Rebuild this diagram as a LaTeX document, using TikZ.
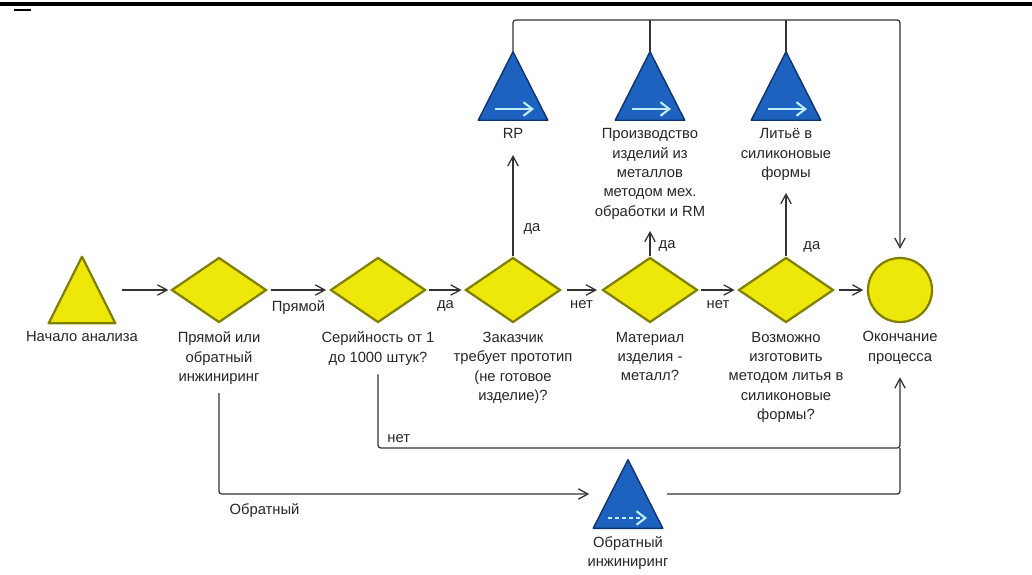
\documentclass[tikz,border=0pt]{standalone}
\usepackage{fontspec}
\setmainfont{Liberation Sans}
\usetikzlibrary{shapes.geometric}
\usetikzlibrary{positioning}
\usetikzlibrary{arrows.meta}
\definecolor{shapeyellow}{RGB}{238,232,10}
\definecolor{shapeolive}{RGB}{128,128,0}
\definecolor{shapeblue}{RGB}{28,98,190}
\definecolor{shapenavy}{RGB}{16,50,110}
\definecolor{arrowcyan}{RGB}{190,236,255}
\definecolor{lineg}{RGB}{50,50,50}
\tikzstyle{decision}=[diamond, draw=shapeolive, fill=shapeyellow, line width=1.6pt, minimum width=2.375cm, minimum height=1.625cm, inner sep=0pt]
\tikzstyle{finish}=[circle, draw=shapeolive, fill=shapeyellow, line width=1.6pt, minimum size=1.6cm, inner sep=0pt]
\tikzstyle{tribox}=[minimum width=1.725cm, minimum height=1.7cm, inner sep=0pt]
\tikzstyle{yellowtri}=[draw=shapeolive, fill=shapeyellow, line width=1.6pt, line join=round]
\tikzstyle{bluetri}=[draw=shapenavy, fill=shapeblue, line width=1pt, line join=round]
\tikzstyle{inarrow}=[arrowcyan, line width=1.5pt, -{Straight Barb[length=2.2mm,width=3.4mm]}]
\tikzstyle{txt}=[align=center, inner sep=0pt, text=black!85, font=\fontsize{10.5}{13.8}\selectfont]
\tikzstyle{lbl}=[txt]
\tikzstyle{link}=[lineg, line width=0.9pt]
\tikzstyle{flow}=[link, -{Straight Barb[length=2.4mm,width=2.6mm]}]

\begin{document}
\begin{tikzpicture}[x=0.025cm, y=-0.025cm]
		\useasboundingbox (0,0) rectangle (1032,574);
		\draw[line width=2.2pt] (0,4) -- (1032,4);
		\draw[line width=1.4pt] (14,10) -- (31,10);

		\node(start)[tribox, minimum width=1.65cm, minimum height=1.65cm] at (82, 290) {};
		\filldraw[yellowtri] (start.south west) -- (start.north) -- (start.south east) -- cycle;
		\node(d1)[decision] at (219, 290) {};
		\node(d2)[decision] at (378, 290) {};
		\node(d3)[decision] at (513, 290) {};
		\node(d4)[decision] at (650, 290) {};
		\node(d5)[decision] at (786, 290) {};
		\node(end)[finish] at (900, 290) {};

		\node(rp)[tribox] at (513, 86) {};
		\filldraw[bluetri] (rp.south west) -- (rp.north) -- (rp.south east) -- cycle;
		\draw[inarrow] ([shift={(-18,23)}]rp.center) -- ([shift={(21,23)}]rp.center);
		\node(metal)[tribox] at (650, 86) {};
		\filldraw[bluetri] (metal.south west) -- (metal.north) -- (metal.south east) -- cycle;
		\draw[inarrow] ([shift={(-18,23)}]metal.center) -- ([shift={(21,23)}]metal.center);
		\node(cast)[tribox] at (786, 86) {};
		\filldraw[bluetri] (cast.south west) -- (cast.north) -- (cast.south east) -- cycle;
		\draw[inarrow] ([shift={(-18,23)}]cast.center) -- ([shift={(21,23)}]cast.center);
		\node(rev)[tribox] at (628, 494) {};
		\filldraw[bluetri] (rev.south west) -- (rev.north) -- (rev.south east) -- cycle;
		\draw[inarrow, dash pattern=on 3pt off 2pt] ([shift={(-20,24)}]rev.center) -- ([shift={(19,24)}]rev.center);

		\node(starttxt)[txt, below=0.2cm of start] {Начало анализа};
		\node(d1txt)[txt, below=0.2cm of d1] {Прямой или\\обратный\\инжиниринг};
		\node(d2txt)[txt, below=0.2cm of d2] {Серийность от 1\\до 1000 штук?};
		\node(d3txt)[txt, below=0.2cm of d3] {Заказчик\\требует прототип\\(не готовое\\изделие)?};
		\node(d4txt)[txt, below=0.2cm of d4] {Материал\\изделия -\\металл?};
		\node(d5txt)[txt, below=0.2cm of d5] {Возможно\\изготовить\\методом литья в\\силиконовые\\формы?};
		\node(endtxt)[txt, below=0.2cm of end] {Окончание\\процесса};
		\node(rptxt)[txt, below=0.2cm of rp] {RP};
		\node(metaltxt)[txt, below=0.2cm of metal] {Производство\\изделий из\\металлов\\методом мех.\\обработки и RM};
		\node(casttxt)[txt, below=0.2cm of cast] {Литьё в\\силиконовые\\формы};
		\node(revtxt)[txt, below=0.2cm of rev] {Обратный\\инжиниринг};

		\coordinate(busr) at (900, 20);
		\coordinate(nor) at (900, 448);

		\draw[flow, shorten <=0.175cm, shorten >=0.05cm] (start) -- (d1);
		\draw[flow, shorten <=0.08cm, shorten >=0.08cm] (d1) -- node[lbl, below=0.25cm]{Прямой} (d2);
		\draw[flow, shorten <=0.07cm, shorten >=0.07cm] (d2) -- node[lbl, below=0.25cm]{да} (d3);
		\draw[flow, shorten <=0.13cm, shorten >=0.11cm] (d3) -- node[lbl, below=0.25cm]{нет} (d4);
		\draw[flow, shorten <=0.07cm, shorten >=0.07cm] (d4) -- node[lbl, below=0.25cm]{нет} (d5);
		\draw[flow, shorten <=0.11cm, shorten >=0.09cm] (d5) -- (end);

		\draw[flow, shorten >=0.4cm] (d3) -- node[lbl, pos=0.23, right=0.25cm]{да} (rptxt.south);
		\draw[flow, shorten >=0.28cm] (d4) -- node[lbl, pos=0.28, right=0.2cm]{да} (metaltxt.south);
		\draw[flow, shorten >=0.3cm] (d5) -- node[lbl, pos=0.13, right=0.42cm]{да} (casttxt.south);

		\draw[flow, rounded corners=2pt, shorten >=0.2cm] (rp.north) |- (busr) -- (end);
		\draw[link] (metal.north) -- (metal.north |- busr);
		\draw[link] (cast.north) -- (cast.north |- busr);

		\draw[flow, rounded corners=2pt, shorten <=0.22cm, shorten >=0.32cm] (d2txt.south) |- node[lbl, pos=0.5, anchor=south west, xshift=0.22cm, yshift=0.125cm]{нет} (nor) -- (endtxt.south);
		\draw[flow, rounded corners=2pt, shorten <=0.2cm, shorten >=0.1cm] (d1txt.south) |- node[lbl, pos=0.5, anchor=north west, xshift=0.25cm, yshift=-0.225cm]{Обратный} (rev.west);
		\draw[link, rounded corners=2pt, shorten <=0.11cm] (rev.east) -| (nor);
\end{tikzpicture}
\end{document}
